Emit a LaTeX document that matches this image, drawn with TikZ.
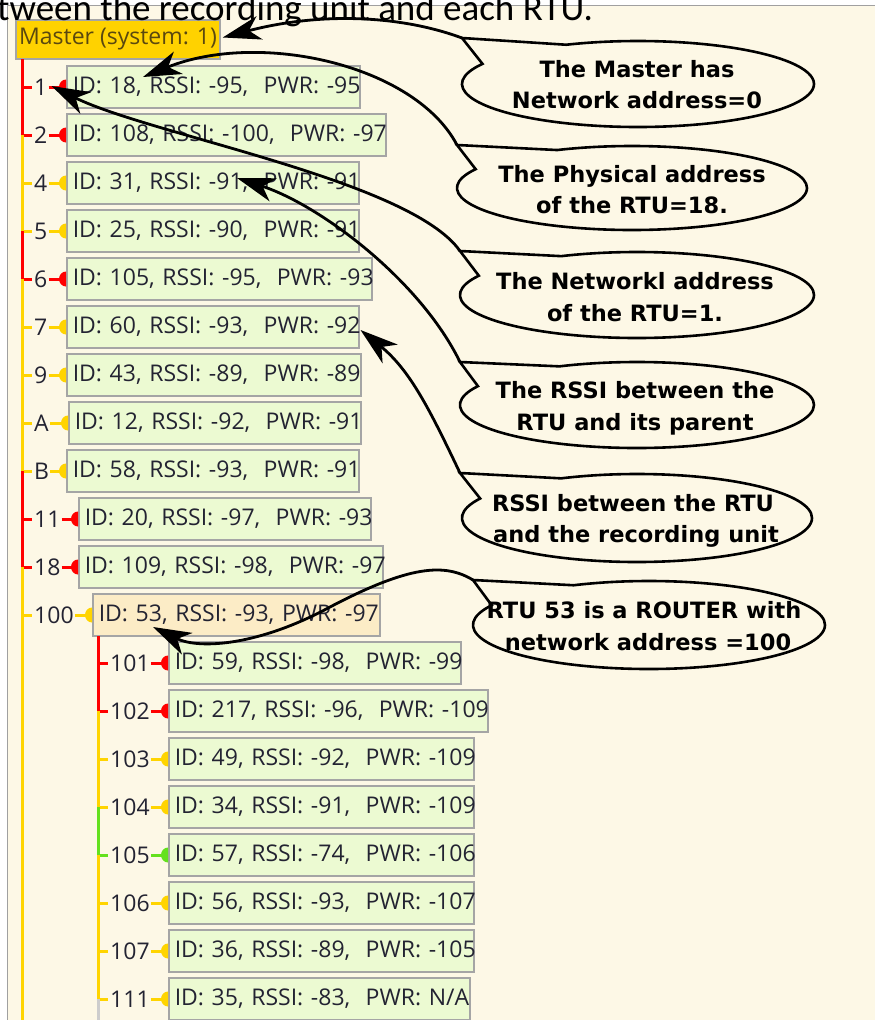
\documentclass[tikz,border=0pt]{standalone}
\usepackage{fontspec}
\setmainfont{Open Sans}
\newfontfamily\treefont{Open Sans}
\newfontfamily\callfont{DejaVu Sans}
\newfontfamily\docfont{Carlito}
\usetikzlibrary{shapes.callouts,arrows.meta,calc}
\definecolor{cream}{RGB}{253,248,230}
\definecolor{rowgreen}{RGB}{236,250,210}
\definecolor{rowpeach}{RGB}{252,236,198}
\definecolor{mastergold}{RGB}{255,210,0}
\definecolor{boxgray}{RGB}{165,165,165}
\definecolor{framegray}{RGB}{160,160,160}
\definecolor{treetext}{RGB}{35,35,50}
\definecolor{mastertext}{RGB}{90,72,15}
\definecolor{tred}{RGB}{255,0,0}
\definecolor{tyel}{RGB}{255,212,0}
\definecolor{tgreen}{RGB}{100,225,30}
\definecolor{tgray}{RGB}{205,205,205}
\newcommand\treefs{\treefont\fontsize{23}{27}\selectfont}
\newcommand\callfs{\callfont\bfseries\fontsize{22.5}{30}\selectfont}
\newcommand\docfs{\docfont\fontsize{37}{44}\selectfont}
\newcommand\rowlink[4]{%
  \draw[trunk,#2] #1 |- ($(#3.west)+(-2,0)$);
  \draw[trunk,#2] ($(#3.east)+(1,0)$) -- (#4.west);
  \path (#4.west) pic{hd=#2};}
\tikzset{
  rowbox/.style={draw=boxgray, line width=1.5pt, fill=rowgreen, anchor=west,
    inner xsep=6pt, inner ysep=0pt, minimum height=42pt, text width=#1,
    align=left, font=\treefs, text=treetext},
  masterbox/.style={draw=boxgray, line width=1.5pt, fill=mastergold,
    minimum width=204pt, minimum height=39pt, inner sep=0pt, font=\treefs, text=mastertext},
  lab/.style={anchor=west, inner sep=0pt, font=\treefs, text=treetext},
  trunk/.style={line width=3pt},
  hd/.pic={\begin{scope}\clip (-9pt,-9pt) rectangle (0pt,9pt);
    \fill[#1] (0pt,0pt) ellipse[x radius=7pt, y radius=7.5pt];\end{scope}},
  bubble/.style={ellipse callout, draw=black, line width=2.6pt, inner sep=0pt,
    outer sep=0pt, callout pointer arc=38},
  ctext/.style={anchor=base, inner sep=0pt, font=\callfs, text=black},
  arr/.style={line width=2.8pt, -{Stealth[length=38pt,width=24pt,inset=11pt]}}
}
\begin{document}
\begin{tikzpicture}[x=1pt,y=-1pt]
\useasboundingbox (0,0) rectangle (875,1020);
\fill[white] (0,0) rectangle (875,1020);
\fill[cream] (7.5,5.5) rectangle (875,1020);
\draw[framegray, line width=1.5pt] (7.5,1020) -- (7.5,5.5) -- (875,5.5);

% master
\node[masterbox] (master) at (118,39.5) {Master (system: 1)};

% main rows
\node[rowbox=281pt] (b1) at (66,87) {\mbox{ID: 18, RSSI: -95,~~PWR: -95}};
\node[lab] (l1) at (34,87) {1};
\node[rowbox=307pt] (b2) at (66,135) {\mbox{ID: 108, RSSI: -100,~~PWR: -97}};
\node[lab] (l2) at (34,135) {2};
\node[rowbox=280pt] (b3) at (66,183) {\mbox{ID: 31, RSSI: -91,~~PWR: -91}};
\node[lab] (l3) at (34,183) {4};
\node[rowbox=280pt] (b4) at (66,231) {\mbox{ID: 25, RSSI: -90,~~PWR: -91}};
\node[lab] (l4) at (34,231) {5};
\node[rowbox=293pt] (b5) at (66,279) {\mbox{ID: 105, RSSI: -95,~~PWR: -93}};
\node[lab] (l5) at (34,279) {6};
\node[rowbox=280pt] (b6) at (66,327) {\mbox{ID: 60, RSSI: -93,~~PWR: -92}};
\node[lab] (l6) at (34,327) {7};
\node[rowbox=282pt] (b7) at (66,375) {\mbox{ID: 43, RSSI: -89,~~PWR: -89}};
\node[lab] (l7) at (34,375) {9};
\node[rowbox=280pt] (b8) at (68,423) {\mbox{ID: 12, RSSI: -92,~~PWR: -91}};
\node[lab] (l8) at (34,423) {A};
\node[rowbox=280pt] (b9) at (66,471) {\mbox{ID: 58, RSSI: -93,~~PWR: -91}};
\node[lab] (l9) at (34,471) {B};
\node[rowbox=280pt] (b10) at (78,519) {\mbox{ID: 20, RSSI: -97,~~PWR: -93}};
\node[lab] (l10) at (34,519) {11};
\node[rowbox=292pt] (b11) at (78,567) {\mbox{ID: 109, RSSI: -98,~~PWR: -97}};
\node[lab] (l11) at (34,567) {18};
\node[rowbox=275pt, fill=rowpeach] (b12) at (92,615) {\mbox{ID: 53, RSSI: -93, PWR: -97}};
\node[lab] (l12) at (34,615) {100};

% sub rows
\node[rowbox=280pt] (s1) at (168,663) {\mbox{ID: 59, RSSI: -98,~~PWR: -99}};
\node[lab] (m1) at (110,663) {101};
\node[rowbox=307pt] (s2) at (168,711) {\mbox{ID: 217, RSSI: -96,~~PWR: -109}};
\node[lab] (m2) at (110,711) {102};
\node[rowbox=293pt] (s3) at (168,759) {\mbox{ID: 49, RSSI: -92,~~PWR: -109}};
\node[lab] (m3) at (110,759) {103};
\node[rowbox=293pt] (s4) at (168,807) {\mbox{ID: 34, RSSI: -91,~~PWR: -109}};
\node[lab] (m4) at (110,807) {104};
\node[rowbox=293pt] (s5) at (168,855) {\mbox{ID: 57, RSSI: -74,~~PWR: -106}};
\node[lab] (m5) at (110,855) {105};
\node[rowbox=293pt] (s6) at (168,903) {\mbox{ID: 56, RSSI: -93,~~PWR: -107}};
\node[lab] (m6) at (110,903) {106};
\node[rowbox=293pt] (s7) at (168,951) {\mbox{ID: 36, RSSI: -89,~~PWR: -105}};
\node[lab] (m7) at (110,951) {107};
\node[rowbox=289pt] (s8) at (168,999) {\mbox{ID: 35, RSSI: -83,~~PWR: N/A}};
\node[lab] (m8) at (110,999) {111};

% tree links
\rowlink{(22,59)}{tred}{l1}{b1}
\rowlink{(22,87)}{tred}{l2}{b2}
\rowlink{(22,135)}{tyel}{l3}{b3}
\rowlink{(22,183)}{tyel}{l4}{b4}
\rowlink{(22,231)}{tred}{l5}{b5}
\rowlink{(22,279)}{tyel}{l6}{b6}
\rowlink{(22,327)}{tyel}{l7}{b7}
\rowlink{(22,375)}{tyel}{l8}{b8}
\rowlink{(22,423)}{tyel}{l9}{b9}
\rowlink{(22,471)}{tred}{l10}{b10}
\rowlink{(22,519)}{tred}{l11}{b11}
\rowlink{(22,567)}{tyel}{l12}{b12}
\draw[trunk,tyel] (22,615) -- (22,1022);
\rowlink{(98,636)}{tred}{m1}{s1}
\rowlink{(98,663)}{tred}{m2}{s2}
\rowlink{(98,711)}{tyel}{m3}{s3}
\rowlink{(98,759)}{tyel}{m4}{s4}
\rowlink{(98,807)}{tgreen}{m5}{s5}
\rowlink{(98,855)}{tyel}{m6}{s6}
\rowlink{(98,903)}{tyel}{m7}{s7}
\rowlink{(98,951)}{tyel}{m8}{s8}
\draw[trunk,tgray] (98,999) -- (98,1022);

% callouts
\node[bubble, minimum width=352pt, minimum height=86pt, callout absolute pointer={(462,38)}] (c1) at (638,84) {};
\node[bubble, minimum width=350pt, minimum height=84pt, callout absolute pointer={(457,145)}] (c2) at (632,188) {};
\node[bubble, minimum width=354pt, minimum height=86pt, callout absolute pointer={(460,251)}] (c3) at (637,295) {};
\node[bubble, minimum width=354pt, minimum height=86pt, callout absolute pointer={(460,362)}] (c4) at (637,405) {};
\node[bubble, minimum width=350pt, minimum height=88pt, callout absolute pointer={(460,473)}] (c5) at (637,518) {};
\node[bubble, minimum width=352pt, minimum height=88pt, callout absolute pointer={(473,580)}] (c6) at (649,625) {};
\node[ctext] (c1a) at (637,77) {The Master has};
\node[ctext] (c1b) at (637,108) {Network address=0};
\node[ctext] (c2a) at (632,182) {The Physical address};
\node[ctext] (c2b) at (632,213) {of the RTU=18.};
\node[ctext] (c3a) at (635,289) {The Networkl address};
\node[ctext] (c3b) at (635,321) {of the RTU=1.};
\node[ctext] (c4a) at (635,398) {The RSSI between the};
\node[ctext] (c4b) at (635,430) {RTU and its parent};
\node[ctext] (c5a) at (633,511) {RSSI between the RTU};
\node[ctext] (c5b) at (636,542) {and the recording unit};
\node[ctext] (c6a) at (644,618) {RTU 53 is a ROUTER with};
\node[ctext] (c6b) at (648,650) {network address =100};

% arrows
\coordinate (tA) at ($(master.east)+(2,-2)$);
\coordinate (tB) at ($(b1.west)+(77,-10)$);
\coordinate (tC) at ($(l1.east)+(4,-1)$);
\coordinate (tD) at ($(b3.west)+(171,-5)$);
\coordinate (tE) at ($(b6.east)+(1,3)$);
\coordinate (tF) at ($(b12.west)+(61,12)$);
\draw[arr] (c1.pointer) .. controls (400,15) and (320,12) .. (tA);
\draw[arr] (c2.pointer) .. controls (415,65) and (260,30) .. (tB);
\draw[arr] (c3.pointer) .. controls (410,180) and (150,135) .. (tC);
\draw[arr] (c4.pointer) .. controls (420,280) and (320,205) .. (tD);
\draw[arr] (c5.pointer) .. controls (430,410) and (410,370) .. (tE);
\draw[arr] (c6.pointer) .. controls (445,563) and (410,565) .. (330,607) .. controls (260,645) and (200,650) .. (tF);

% top text
\node[anchor=base west, inner sep=0pt, font=\docfs, text=black] (title) at (-3,20) {tween the recording unit and each RTU.};
\end{tikzpicture}
\end{document}
